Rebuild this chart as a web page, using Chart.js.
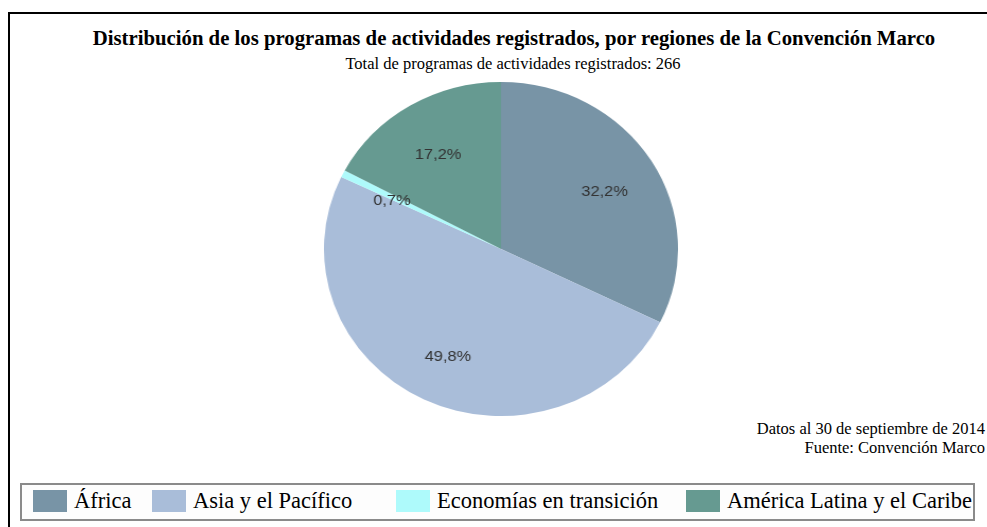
<!DOCTYPE html>
<html lang="es">
<head>
<meta charset="UTF-8">
<title>Distribución de los programas de actividades registrados</title>
<script src="https://cdn.jsdelivr.net/npm/chart.js"></script>
<style>
  html, body { margin: 0; padding: 0; background: #fff; }
  body { width: 987px; height: 527px; position: relative; overflow: hidden; font-family: "Liberation Serif", "Times New Roman", serif; }
  #frame { position: absolute; left: 8px; top: 12px; width: 1100px; height: 600px; border-left: 2px solid #000; border-top: 2px solid #000; }
  #title { position: absolute; left: 0; width: 1028px; top: 26px; line-height: 24px; text-align: center; font-weight: bold; font-size: 20.75px; color: #000; }
  #subtitle { position: absolute; left: 0; width: 1026px; top: 54px; line-height: 20px; text-align: center; font-size: 16.5px; color: #000; }
  #pieWrap { position: absolute; left: 334px; top: 82px; width: 334px; height: 334px; transform: scaleX(1.06); transform-origin: 50% 50%; }
  #notes { position: absolute; right: 2px; top: 419px; text-align: right; font-size: 16.5px; line-height: 19px; color: #000; }
  #legend { position: absolute; left: 20px; top: 483px; width: 951px; height: 34px; border: 2px solid #8a8a8a; background: #fdfdfd; }
  .item { position: absolute; top: 4px; height: 24px; display: flex; align-items: center; font-size: 22.5px; color: #000; white-space: nowrap; }
  .sw { width: 34px; height: 22px; margin-right: 7px; }
</style>
</head>
<body>
<div id="frame"></div>
<div id="title">Distribución de los programas de actividades registrados, por regiones de la Convención Marco</div>
<div id="subtitle">Total de programas de actividades registrados: 266</div>
<div id="pieWrap"><canvas id="myChart" width="334" height="334"></canvas></div>
<div id="notes">Datos al 30 de septiembre de 2014<br>Fuente: Convención Marco</div>
<div id="legend"></div>
<script>
// datos
const regiones = ['África', 'Asia y el Pacífico', 'Economías en transición', 'América Latina y el Caribe'];
const porcentajes = [32.2, 49.8, 0.7, 17.2];
const colores = ['#7894a6', '#a9bdd9', '#aefafb', '#669a91'];
const legendLeft = [11, 130, 374, 664]; // posición de cada elemento de la leyenda

// etiquetas dentro de la torta
const pieLabels = {
    id: 'pieLabels',
    afterDatasetsDraw(chart) {
        const ctx = chart.ctx;
        const meta = chart.getDatasetMeta(0);
        ctx.save();
        ctx.font = '15.5px "Liberation Sans", Arial, sans-serif';
        ctx.fillStyle = '#333';
        ctx.textAlign = 'center';
        ctx.textBaseline = 'middle';
        meta.data.forEach((arc, i) => {
            const mid = (arc.startAngle + arc.endAngle) / 2;
            const r = arc.outerRadius * 0.69;
            const x = arc.x + Math.cos(mid) * r;
            const y = arc.y + Math.sin(mid) * r + 4;
            ctx.fillText(porcentajes[i].toFixed(1).replace('.', ',') + '%', x, y);
        });
        ctx.restore();
    }
};

const ctx = document.getElementById('myChart').getContext('2d');
const myChart = new Chart(ctx, {
    type: 'pie',
    data: {
        labels: regiones,
        datasets: [{
            data: porcentajes,
            backgroundColor: colores,
            borderWidth: 0
        }]
    },
    options: {
        responsive: false,
        animation: false,
        layout: { padding: 0 },
        plugins: {
            legend: { display: false },
            tooltip: { enabled: false }
        }
    },
    plugins: [pieLabels]
});

// leyenda
const legendDiv = document.getElementById('legend');
regiones.forEach((r, i) => {
    const it = document.createElement('div');
    it.className = 'item';
    it.style.left = legendLeft[i] + 'px';
    const sw = document.createElement('span');
    sw.className = 'sw';
    sw.style.background = colores[i];
    it.appendChild(sw);
    it.appendChild(document.createTextNode(r));
    legendDiv.appendChild(it);
});
</script>
</body>
</html>
